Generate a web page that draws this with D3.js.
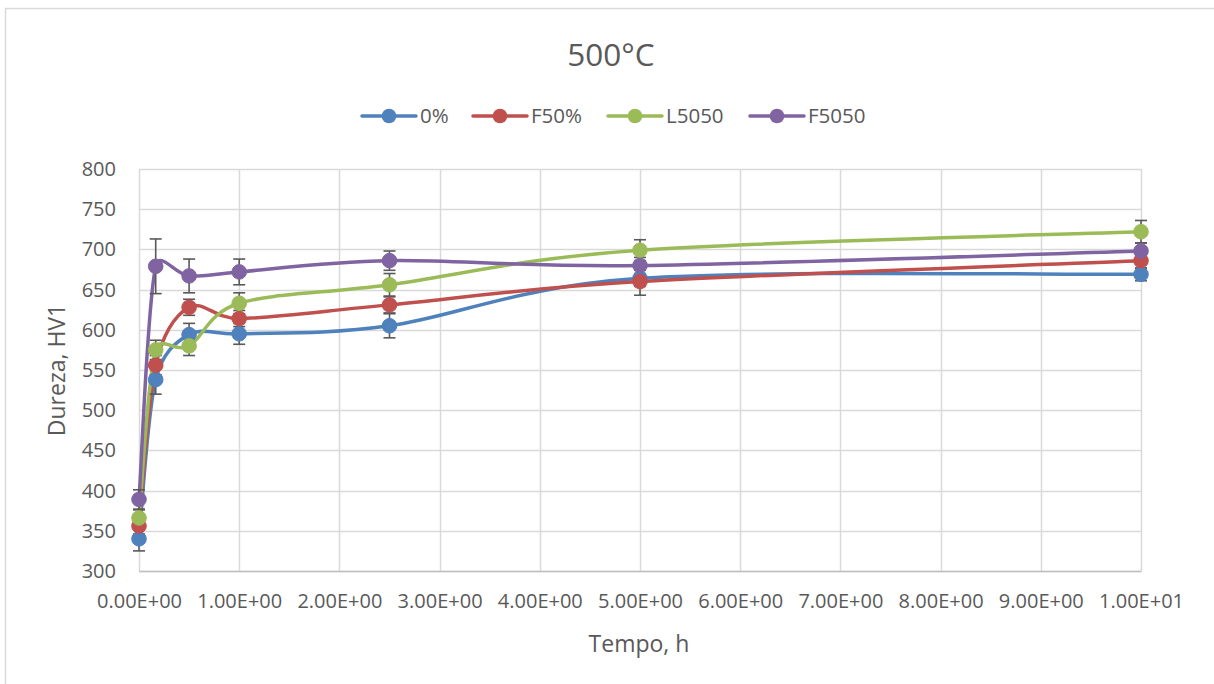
<!DOCTYPE html>
<html>
<head>
<meta charset="utf-8">
<script src="https://cdn.jsdelivr.net/npm/d3@7"></script>
<style>
  html, body { margin: 0; padding: 0; background: #fff; }
  svg { display: block; font-family: "Open Sans", sans-serif; }
</style>
</head>
<body>
<svg id="chart" width="1214" height="684"></svg>
<script>
// Tempo de tratamento (h)
const tempo = [0, 0.1667, 0.5, 1, 2.5, 5, 10];

// Dureza HV1 por série
const serie0 = [340, 538, 594, 595, 605, 664, 669];
const serieF50 = [356, 556, 628, 614, 631, 660, 686];
const serieL5050 = [366, 575, 580, 633, 656, 699, 722];
const serieF5050 = [389, 679, 667, 672, 686, 680, 698];

// Desvio padrão (barras de erro)
const erro0 = [15, 18, 14, 13, 15, 10, 8];
const erroF50 = [10, 12, 10, 10, 10, 17, 10];
const erroL5050 = [10, 12, 12, 13, 14, 13, 14];
const erroF5050 = [12, 34, 21, 16, 12, 10, 10];

const seriesNames = ["0%", "F50%", "L5050", "F5050"];
const seriesColors = ["#4F81BD", "#C0504D", "#9BBB59", "#8064A2"];

const yTicks = [300, 350, 400, 450, 500, 550, 600, 650, 700, 750, 800];
const xTicks = [0, 1, 2, 3, 4, 5, 6, 7, 8, 9, 10];
const xTickLabels = ["0.00E+00", "1.00E+00", "2.00E+00", "3.00E+00", "4.00E+00", "5.00E+00",
                     "6.00E+00", "7.00E+00", "8.00E+00", "9.00E+00", "1.00E+01"];

const series = [
  { name: seriesNames[0], values: serie0, err: erro0, color: seriesColors[0] },
  { name: seriesNames[1], values: serieF50, err: erroF50, color: seriesColors[1] },
  { name: seriesNames[2], values: serieL5050, err: erroL5050, color: seriesColors[2] },
  { name: seriesNames[3], values: serieF5050, err: erroF5050, color: seriesColors[3] }
];

const svg = d3.select("#chart");
const textColor = "#595959";
const gridColor = "#D9D9D9";

// chart frame
svg.append("rect")
  .attr("x", 5.5).attr("y", 8.5)
  .attr("width", 1300).attr("height", 800)
  .attr("fill", "none").attr("stroke", "#D9D9D9").attr("stroke-width", 1.5);

const plot = { left: 139, right: 1141, top: 169, bottom: 571 };

const x = d3.scaleLinear().domain([0, 10]).range([plot.left, plot.right]);
const y = d3.scaleLinear().domain([300, 800]).range([plot.bottom, plot.top]);

// horizontal gridlines
svg.append("g").selectAll("line").data(yTicks).join("line")
  .attr("x1", plot.left).attr("x2", plot.right)
  .attr("y1", d => Math.round(y(d)) + 0.5).attr("y2", d => Math.round(y(d)) + 0.5)
  .attr("stroke", gridColor).attr("stroke-width", 1.5);

// vertical gridlines
svg.append("g").selectAll("line").data(xTicks).join("line")
  .attr("y1", plot.top).attr("y2", plot.bottom)
  .attr("x1", d => Math.round(x(d)) + 0.5).attr("x2", d => Math.round(x(d)) + 0.5)
  .attr("stroke", gridColor).attr("stroke-width", 1.5);

// bottom axis
const xAxis = d3.axisBottom(x).tickValues(xTicks)
  .tickFormat((d, i) => xTickLabels[i]).tickSize(0).tickPadding(23);
const gx = svg.append("g").attr("transform", `translate(0,${plot.bottom})`).call(xAxis);
gx.select(".domain").attr("stroke", "#BFBFBF").attr("stroke-width", 1.5);
gx.selectAll("text").attr("fill", textColor).attr("font-size", 20)
  .attr("font-family", "'Open Sans', sans-serif");

// left axis
const yAxis = d3.axisLeft(y).tickValues(yTicks).tickSize(0).tickPadding(23);
const gy = svg.append("g").attr("transform", `translate(${plot.left},0)`).call(yAxis);
gy.select(".domain").remove();
gy.selectAll("text").attr("fill", textColor).attr("font-size", 20)
  .attr("font-family", "'Open Sans', sans-serif");

// titles
svg.append("text").attr("x", 611).attr("y", 66).attr("text-anchor", "middle")
  .attr("fill", textColor).attr("font-size", 31.5).text("500°C");
svg.append("text").attr("x", 639).attr("y", 652).attr("text-anchor", "middle")
  .attr("fill", textColor).attr("font-size", 23).text("Tempo, h");
svg.append("text").attr("transform", "translate(65,370) rotate(-90)")
  .attr("text-anchor", "middle").attr("fill", textColor).attr("font-size", 23)
  .text("Dureza, HV1");

// smoothed line: Bezier segments with 1/6 neighbour tangents,
// control arms limited to half of the adjacent segment length
function smoothPath(pts) {
  const p = d3.path();
  const n = pts.length;
  const tan = pts.map((pt, i) => {
    const a = pts[Math.max(0, i - 1)], b = pts[Math.min(n - 1, i + 1)];
    return [(b[0] - a[0]) / 6, (b[1] - a[1]) / 6];
  });
  const arm = (t, segLen) => {
    const len = Math.hypot(t[0], t[1]);
    const k = len > 0 ? Math.min(1, 0.5 * segLen / len) : 0;
    return [t[0] * k, t[1] * k];
  };
  p.moveTo(pts[0][0], pts[0][1]);
  for (let i = 0; i < n - 1; i++) {
    const a = pts[i], b = pts[i + 1];
    const seg = Math.hypot(b[0] - a[0], b[1] - a[1]);
    const t1 = arm(tan[i], seg), t2 = arm(tan[i + 1], seg);
    p.bezierCurveTo(a[0] + t1[0], a[1] + t1[1], b[0] - t2[0], b[1] - t2[1], b[0], b[1]);
  }
  return p.toString();
}

series.forEach(s => {
  const pts = tempo.map((t, i) => [x(t), y(s.values[i])]);
  svg.append("path")
    .attr("d", smoothPath(pts)).attr("fill", "none")
    .attr("stroke", s.color).attr("stroke-width", 3.5)
    .attr("stroke-linejoin", "round").attr("stroke-linecap", "round");
});

// error bars
series.forEach(s => {
  const g = svg.append("g").attr("stroke", "#595959").attr("stroke-width", 1.6);
  tempo.forEach((t, i) => {
    const cx = x(t), top = y(s.values[i] + s.err[i]), bot = y(s.values[i] - s.err[i]);
    g.append("line").attr("x1", cx).attr("x2", cx).attr("y1", top).attr("y2", bot);
    g.append("line").attr("x1", cx - 6).attr("x2", cx + 6).attr("y1", top).attr("y2", top);
    g.append("line").attr("x1", cx - 6).attr("x2", cx + 6).attr("y1", bot).attr("y2", bot);
  });
});

// markers
series.forEach(s => {
  svg.append("g").selectAll("circle").data(tempo.map((t, i) => [t, s.values[i]])).join("circle")
    .attr("cx", d => x(d[0])).attr("cy", d => y(d[1])).attr("r", 7.3)
    .attr("fill", s.color).attr("stroke", s.color).attr("stroke-width", 1);
});

// legend
const legendX = [362, 473, 608, 750];
const legend = svg.append("g");
series.forEach((s, i) => {
  const lx = legendX[i], ly = 116;
  legend.append("line").attr("x1", lx).attr("x2", lx + 54).attr("y1", ly).attr("y2", ly)
    .attr("stroke", s.color).attr("stroke-width", 3.5).attr("stroke-linecap", "round");
  legend.append("circle").attr("cx", lx + 27).attr("cy", ly).attr("r", 7.3).attr("fill", s.color);
  legend.append("text").attr("x", lx + 58).attr("y", ly + 7)
    .attr("fill", textColor).attr("font-size", 20.5).text(s.name);
});
</script>
</body>
</html>
